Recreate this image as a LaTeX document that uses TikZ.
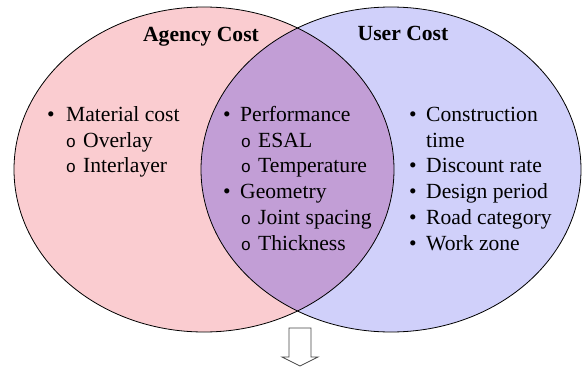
\documentclass[tikz,border=0pt]{standalone}
\usepackage{fontspec}
\setmainfont{Liberation Serif}
\newfontfamily\serfam{Liberation Serif}
\newfontfamily\monofam{Liberation Mono}
\definecolor{pinkfill}{RGB}{250,204,208}
\definecolor{bluefill}{RGB}{208,208,250}
\definecolor{lensfill}{RGB}{194,158,214}
\definecolor{arrowgray}{RGB}{70,70,70}
\begin{document}
\begin{tikzpicture}[x=1pt,y=-1pt,
  txt/.style={anchor=base west,inner sep=0pt,font=\serfam\fontsize{21.6}{26}\selectfont},
  ttl/.style={anchor=base,inner sep=0pt,font=\serfam\fontsize{21.6}{26}\selectfont\bfseries},
  bul/.style={anchor=base,inner sep=0pt,font=\serfam\fontsize{21.6}{26}\selectfont},
  sub/.style={anchor=base,inner sep=0pt,font=\monofam\fontsize{17}{20}\selectfont},
  ring/.style={draw=black,line width=0.8pt}]
\useasboundingbox (0,0) rectangle (583,369);
\fill[pinkfill] (204,169.5) ellipse [x radius=190pt, y radius=162.5pt];
\fill[bluefill] (391,169.5) ellipse [x radius=190pt, y radius=162.5pt];
\begin{scope}
  \clip (204,169.5) ellipse [x radius=190pt, y radius=162.5pt];
  \fill[lensfill] (391,169.5) ellipse [x radius=190pt, y radius=162.5pt];
\end{scope}
\draw[ring] (204,169.5) ellipse [x radius=190pt, y radius=162.5pt];
\draw[ring] (391,169.5) ellipse [x radius=190pt, y radius=162.5pt];
% titles
\node[ttl] (agency) at (201,41.5) {Agency Cost};
\node[ttl] (user) at (403,40.5) {User Cost};
% left list
\node[bul] (lb1) at (51,121) {•};
\node[txt] (l1) at (66,121) {Material cost};
\node[sub] (ls1) at (71,147) {o};
\node[txt] (l2) at (83,147) {Overlay};
\node[sub] (ls2) at (71,172) {o};
\node[txt] (l3) at (83,172) {Interlayer};
% middle list
\node[bul] (mb1) at (227,121) {•};
\node[txt] (m1) at (240,121) {Performance};
\node[sub] (ms1) at (246,147) {o};
\node[txt] (m2) at (258,147) {ESAL};
\node[sub] (ms2) at (246,172) {o};
\node[txt] (m3) at (258,172) {Temperature};
\node[bul] (mb2) at (227,198) {•};
\node[txt] (m4) at (240,198) {Geometry};
\node[sub] (ms3) at (246,224) {o};
\node[txt] (m5) at (258,224) {Joint spacing};
\node[sub] (ms4) at (246,250) {o};
\node[txt] (m6) at (258,250) {Thickness};
% right list
\node[bul] (rb1) at (413,121) {•};
\node[txt] (r1) at (426,121) {Construction};
\node[txt] (r1b) at (426,147) {time};
\node[bul] (rb2) at (413,172) {•};
\node[txt] (r2) at (426,172) {Discount rate};
\node[bul] (rb3) at (413,198) {•};
\node[txt] (r3) at (426,198) {Design period};
\node[bul] (rb4) at (413,224) {•};
\node[txt] (r4) at (426,224) {Road category};
\node[bul] (rb5) at (413,250) {•};
\node[txt] (r5) at (426,250) {Work zone};
% hollow arrow
\draw[arrowgray,fill=white,line width=0.8pt,line join=miter]
  (289,328) -- (311,328) -- (311,357) -- (318,357) -- (300,366) -- (282,357) -- (289,357) -- cycle;
\end{tikzpicture}
\end{document}
